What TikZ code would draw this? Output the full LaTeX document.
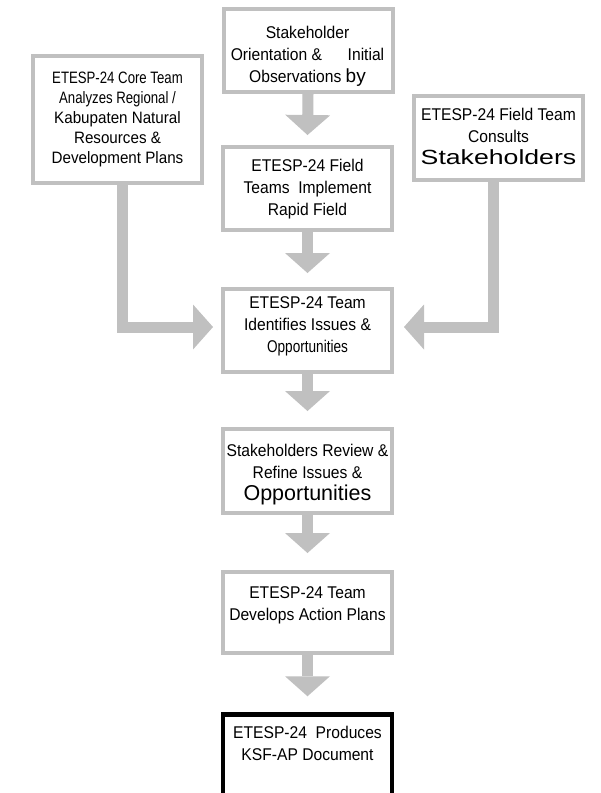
\documentclass[tikz,border=0pt]{standalone}
\usepackage{fontspec}
\setmainfont[FakeStretch=0.92]{Liberation Sans}
\newfontfamily\narrowf[FakeStretch=0.8]{Liberation Sans}
\newfontfamily\regf{Liberation Sans}
\newfontfamily\widef[FakeStretch=1.3]{Liberation Sans}
\usetikzlibrary{arrows.meta}
\definecolor{flowgray}{HTML}{C0C0C0}
\tikzset{
  box/.style={draw=flowgray, line width=4pt, fill=white, minimum width=169pt, inner sep=0pt},
  finalbox/.style={draw=black, line width=4.5pt, fill=white, minimum width=169pt, inner sep=0pt},
  lbl/.style={align=center, anchor=base, font=\fontsize{17}{21.8}\selectfont, inner sep=0pt},
  flow/.style={draw=flowgray, line width=11pt, -{Triangle[width=45pt,length=20pt,line width=0pt,fill=flowgray]}},
}
\begin{document}
\begin{tikzpicture}[x=1pt,y=-1pt]
\clip (0,0) rectangle (601,793);
\fill[white] (0,0) rectangle (601,793);
% boxes
\node[box, minimum height=83pt] (b1) at (308,50.5) {};
\node[box, minimum height=83pt] (b2) at (307.5,188.5) {};
\node[box, minimum height=83pt] (b3) at (307.5,330.5) {};
\node[box, minimum height=84pt] (b4) at (307.5,471) {};
\node[box, minimum height=81pt] (b5) at (307.5,612.5) {};
\node[finalbox, minimum height=150pt] (b6) at (307.5,789.5) {};
\node[box, minimum height=127pt] (L) at (117.5,119.5) {};
\node[box, minimum height=84pt] (R) at (498.5,138) {};
% texts (anchor base = last line baseline)
\node[lbl] (t1) at (307.5,82) {Stakeholder\\Orientation \&\quad\ \ Initial\\Observations {\regf\fontsize{19}{21.8}\selectfont by}};
\node[lbl] (t2) at (307.5,215) {ETESP-24 Field\\Teams\ \ Implement\\Rapid Field};
\node[lbl] (t3) at (307.5,352) {ETESP-24 Team\\Identifies Issues \&\\{\narrowf Opportunities}};
\node[lbl] (t4) at (307.5,500) {Stakeholders Review \&\\Refine Issues \&\\{\regf\fontsize{21.5}{21.8}\selectfont Opportunities}};
\node[lbl] (t5) at (307.5,620) {ETESP-24 Team\\Develops Action Plans};
\node[lbl] (t6) at (307.5,760) {ETESP-24\ \ Produces\\KSF-AP Document};
\node[lbl, font=\fontsize{16.5}{20}\selectfont] (tL) at (117.5,163) {{\narrowf ETESP-24 Core Team}\\{\narrowf Analyzes Regional /}\\Kabupaten Natural\\Resources \&\\Development Plans};
\node[lbl] (tR) at (498.5,164) {ETESP-24 Field Team\\Consults\\{\widef\fontsize{20.5}{21.8}\selectfont Stakeholders}};
% connectors
\draw[flow] (b1.south) -- ([yshift=10]b2.north);
\draw[flow] (b2.south) -- ([yshift=14]b3.north);
\draw[flow] (b3.south) -- ([yshift=16]b4.north);
\draw[flow] (b4.south) -- ([yshift=17]b5.north);
\draw[flow] (b5.south) -- ([yshift=16]b6.north);
\draw[flow] ([xshift=4.5]L.south) |- ([shift={(-8,-3.5)}]b3.west);
\draw[flow] ([xshift=-5.5]R.south) |- ([shift={(10,-3.5)}]b3.east);
\end{tikzpicture}
\end{document}
